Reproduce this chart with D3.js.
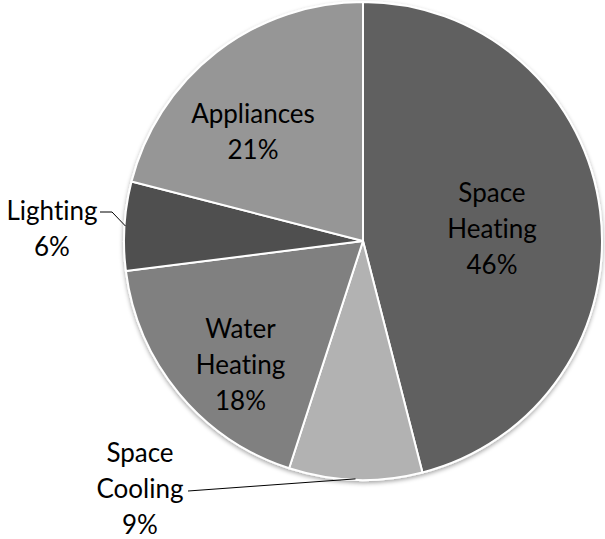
<!DOCTYPE html>
<html>
<head>
<meta charset="utf-8">
<script src="https://cdn.jsdelivr.net/npm/d3@7"></script>
<style>
  html, body { margin: 0; padding: 0; background: #fff; }
  text { font-family: Lato, "Open Sans", sans-serif; font-size: 26px; fill: #000; font-variant-ligatures: none; }
</style>
</head>
<body>
<svg id="chart" width="605" height="539"></svg>
<script>
// Residential energy end uses (share of total, %)
const categories = ["Space Heating", "Space Cooling", "Water Heating", "Lighting", "Appliances"];
const shares = [46, 9, 18, 6, 21];
const fills = ["#606060", "#b2b2b2", "#808080", "#4f4f4f", "#969696"];

const svg = d3.select("#chart");
const cx = 363, cy = 241, radius = 239;

const defs = svg.append("defs");
const shadow = defs.append("filter").attr("id", "shadow")
  .attr("x", "-10%").attr("y", "-10%").attr("width", "120%").attr("height", "120%");
shadow.append("feDropShadow").attr("dx", 0).attr("dy", 2).attr("stdDeviation", 2)
  .attr("flood-color", "#000").attr("flood-opacity", 0.35);

const pie = d3.pie().sort(null).value(d => d.value);
const arcs = pie(categories.map((c, i) => ({ name: c, value: shares[i], fill: fills[i] })));
const arc = d3.arc().innerRadius(0).outerRadius(radius);

const g = svg.append("g").attr("transform", `translate(${cx},${cy})`);

g.append("g").attr("filter", "url(#shadow)")
  .selectAll("path").data(arcs).join("path")
  .attr("d", arc)
  .attr("fill", d => d.data.fill)
  .attr("stroke", "#fff")
  .attr("stroke-width", 2)
  .attr("stroke-linejoin", "round");

// label placement: radial distance from the centre plus a small nudge
const lineH = 36;
const labelLayout = {
  "Space Heating": { r: 130, dx: 0, dy: 4, lines: ["Space", "Heating"] },
  "Appliances":    { r: 155, dx: -15, dy: 13, lines: ["Appliances"] },
  "Water Heating": { r: 172, dx: 10, dy: 14, lines: ["Water", "Heating"] }
};

arcs.forEach(d => {
  const lay = labelLayout[d.data.name];
  if (!lay) return;
  const [x, y] = d3.arc().innerRadius(lay.r).outerRadius(lay.r).centroid(d);
  const lines = lay.lines.concat([d.data.value + "%"]);
  const t = g.append("text").attr("text-anchor", "middle");
  const top = y + lay.dy - (lines.length - 1) * lineH / 2;
  lines.forEach((s, i) => {
    t.append("tspan").attr("x", x + lay.dx).attr("y", top + i * lineH).attr("dy", "0.35em").text(s);
  });
});

// outside labels with leader lines
function outside(name, lines, textX, textTop, path) {
  const d = arcs.find(a => a.data.name === name);
  const t = svg.append("text").attr("text-anchor", "middle");
  lines.concat([d.data.value + "%"]).forEach((s, i) => {
    t.append("tspan").attr("x", textX).attr("y", textTop + i * lineH).attr("dy", "0.35em").text(s);
  });
  const edge = d3.arc().innerRadius(radius - 1).outerRadius(radius - 1).centroid(d);
  const pts = path.concat([[cx + edge[0], cy + edge[1]]]);
  svg.append("path")
    .attr("d", d3.line()(pts))
    .attr("fill", "none").attr("stroke", "#000").attr("stroke-width", 1);
}

outside("Lighting", ["Lighting"], 52, 211, [[100, 212], [112, 212]]);
outside("Space Cooling", ["Space", "Cooling"], 140, 453, [[188, 491]]);
</script>
</body>
</html>
